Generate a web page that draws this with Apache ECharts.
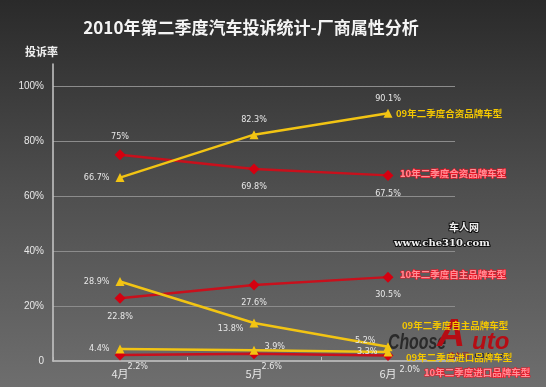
<!DOCTYPE html>
<html><head><meta charset="utf-8">
<script src="https://cdn.jsdelivr.net/npm/echarts@6/dist/echarts.min.js"></script>
<style>html,body{margin:0;padding:0;}#c{width:546px;height:387px;}</style>
</head><body><div id="c"></div>
<script>
const months = ['4月', '5月', '6月'];
const yTicks = [0, 20, 40, 60, 80, 100];
const names = ['09年二季度合资品牌车型', '10年二季度合资品牌车型', '10年二季度自主品牌车型', '09年二季度自主品牌车型', '09年二季度进口品牌车型', '10年二季度进口品牌车型'];
const jv09 = [66.7, 82.3, 90.1];
const jv10 = [75, 69.8, 67.5];
const own10 = [22.8, 27.6, 30.5];
const own09 = [28.9, 13.8, 5.2];
const imp09 = [4.4, 3.9, 3.3];
const imp10 = [2.2, 2.6, 2.0];

const YEL = '#f2c413', RED = '#c8101c';
const labFont = {color: '#e8e8e8', fontSize: 9, fontFamily: 'Liberation Sans Narrow, DejaVu Sans Condensed, Liberation Sans, sans-serif'};
const fmt = p => ((p.value >= 10 && Number.isInteger(p.value)) ? p.value : p.value.toFixed(1)) + '%';

function mk(name, vals, isRed, labCfg, endOffset) {
  return {
    name: name, type: 'line', data: vals.map((v, i) => ({
      value: v,
      label: Object.assign({show: true, formatter: fmt}, labFont, labCfg[i])
    })),
    symbol: isRed ? 'diamond' : 'triangle',
    symbolSize: isRed ? 11 : 9,
    lineStyle: {color: isRed ? RED : YEL, width: 2.5},
    itemStyle: {color: isRed ? '#d40010' : YEL},
    z: isRed ? 3 : 4,
    endLabel: {
      show: true, formatter: name, fontSize: 9.5, fontWeight: 'bold',
      fontFamily: 'Noto Sans CJK SC',
      color: isRed ? '#ff8e96' : '#f5c800',
      textBorderColor: isRed ? '#ee1626' : 'rgba(0,0,0,0)', textBorderWidth: isRed ? 1.2 : 0,
      offset: endOffset, distance: 8
    },
    emphasis: {disabled: true}, animation: false
  };
}

const series = [
  mk(names[0], jv09, false, [{position: 'left', distance: 6}, {position: 'top', distance: 6}, {position: 'top', distance: 6}], [0, 0]),
  mk(names[1], jv10, true, [{position: 'top', distance: 8}, {position: 'bottom', distance: 8}, {position: 'bottom', distance: 8}], [4, -2]),
  mk(names[2], own10, true, [{position: 'bottom', distance: 8}, {position: 'bottom', distance: 8}, {position: 'bottom', distance: 8}], [4, -3]),
  mk(names[3], own09, false, [{position: 'left', distance: 6}, {position: 'left', distance: 6, offset: [0, 6]}, {position: 'left', distance: 8, offset: [0, -6]}], [6, -21]),
  mk(names[4], imp09, false, [{position: 'left', distance: 6}, {position: 'right', distance: 2, offset: [4, -4]}, {position: 'left', distance: 6}], [10, 5]),
  mk(names[5], imp10, true, [{position: 'right', distance: 2, offset: [0, 12]}, {position: 'right', distance: 2, offset: [0, 13]}, {position: 'right', distance: 2, offset: [4, 14]}], [28, 17])
];

const chart = echarts.init(document.getElementById('c'));
chart.setOption({
  animation: false,
  backgroundColor: {type: 'linear', x: 0, y: 0, x2: 0, y2: 1, colorStops: [{offset: 0, color: '#2a2a2a'}, {offset: 0.5, color: '#4f4f4f'}, {offset: 1, color: '#6e6e6e'}]},
  title: {text: '2010年第二季度汽车投诉统计-厂商属性分析', left: 246, textAlign: 'center', top: 14,
    textStyle: {color: '#f4f4f4', fontSize: 17, fontWeight: 'bold', fontFamily: 'Noto Sans CJK SC'}},
  graphic: [
    {type: 'text', left: 25, top: 46, style: {text: '投诉率', fill: '#f0f0f0', fontSize: 11, fontWeight: 'bold', fontFamily: 'Noto Sans CJK SC'}},
    {type: 'text', left: 448, top: 221, z: 10, style: {text: '车人网', fill: '#f0f0f0', stroke: '#111', lineWidth: 2, fontSize: 10, fontWeight: 'bold', fontFamily: 'Noto Sans CJK SC'}},
    {type: 'text', left: 393, top: 237, z: 10, style: {text: 'www.che310.com', fill: '#f0f0f0', stroke: '#111', lineWidth: 2, fontSize: 10, fontWeight: 'bold', fontFamily: 'DejaVu Serif'}},
    {type: 'text', x: 388, y: 332, z: 0, scaleX: 0.72, style: {text: 'Choose', fill: '#2a2a2a', fontSize: 22, fontWeight: 'bold', fontStyle: 'italic', fontFamily: 'Liberation Sans'}},
    {type: 'text', x: 437, y: 316, z: 0, style: {text: 'A', fill: '#b50d14', fontSize: 39, fontWeight: 'bold', fontStyle: 'italic', fontFamily: 'Liberation Sans'}},
    {type: 'text', x: 472, y: 330, z: 0, style: {text: 'uto', fill: '#b50d14', fontSize: 24, fontWeight: 'bold', fontStyle: 'italic', fontFamily: 'Liberation Sans'}},
    {type: 'text', x: 448, y: 352, z: 0, style: {text: '选车网', fill: '#b50d14', fontSize: 7, fontFamily: 'Noto Sans CJK SC'}},
    {type: 'text', x: 472, y: 351, z: 0, style: {text: '.com  .cn', fill: '#2e2e2e', fontSize: 9, fontWeight: 'bold', fontFamily: 'Liberation Sans'}}
  ],
  grid: {left: 53, right: 91, top: 64, bottom: 26},
  xAxis: {type: 'category', data: months, boundaryGap: true,
    axisLine: {lineStyle: {color: '#c8c8c8', width: 1.5}},
    axisTick: {show: true, inside: true, length: 4, lineStyle: {color: '#bbbbbb'}},
    axisLabel: {color: '#e6e6e6', fontSize: 11, margin: 7, fontFamily: 'Noto Sans CJK SC'}},
  yAxis: {type: 'value', min: 0, max: 108, interval: 20,
    axisLine: {show: true, lineStyle: {color: '#c8c8c8', width: 1.5}},
    axisTick: {show: false},
    axisLabel: {color: '#e8e8e8', fontSize: 10, margin: 9, showMaxLabel: false, fontFamily: 'Liberation Sans',
      formatter: v => (yTicks.indexOf(v) < 0 ? '' : (v === 0 ? '0' : v + '%'))},
    splitLine: {show: true, showMinLine: false, showMaxLine: false, lineStyle: {color: '#8c8c8c', width: 1}}},
  series: series
});
</script></body></html>
